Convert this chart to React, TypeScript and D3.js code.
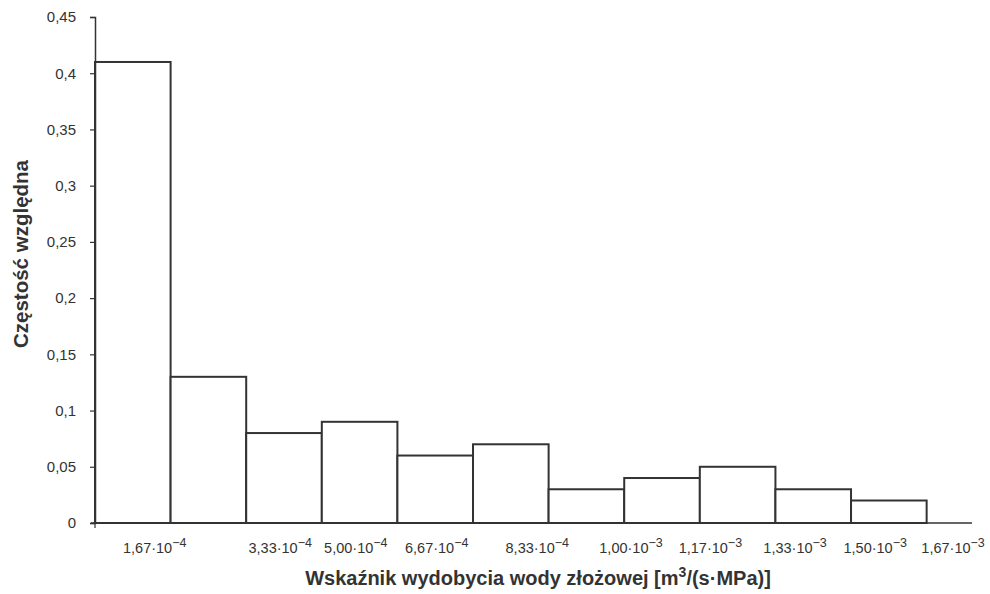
import React, { useEffect, useRef } from 'react';
import * as d3 from 'd3';

// relative frequency for each of the 11 bins
const freq = [0.41, 0.13, 0.08, 0.09, 0.06, 0.07, 0.03, 0.04, 0.05, 0.03, 0.02];

const yTicks = [0, 0.05, 0.1, 0.15, 0.2, 0.25, 0.3, 0.35, 0.4, 0.45];

// x tick labels (mantissa, exponent) and where they sit, in bin units
const xLabelMant = ['1,67', '3,33', '5,00', '6,67', '8,33', '1,00', '1,17', '1,33', '1,50', '1,67'];
const xLabelExp = ['4', '4', '4', '4', '4', '3', '3', '3', '3', '3'];
const xLabelPos = [0.79, 2.45, 3.45, 4.52, 5.85, 7.09, 8.14, 9.26, 10.32, 11.35];

const INK = '#333333';

const App = () => {
  const ref = useRef<SVGSVGElement | null>(null);

  useEffect(() => {
    const svg = d3.select(ref.current);
    svg.selectAll('*').remove();

    const x = d3.scaleLinear().domain([0, 11.6]).range([95, 972]);
    const y = d3.scaleLinear().domain([0, 0.45]).range([523, 17]);

    const fmt = d3.formatLocale({ decimal: ',', thousands: ' ', grouping: [3], currency: ['', ''] }).format('~g');

    // bars
    svg.append('g')
      .selectAll('rect')
      .data(freq)
      .enter()
      .append('rect')
      .attr('x', (d, i) => x(i))
      .attr('y', d => y(d))
      .attr('width', x(1) - x(0))
      .attr('height', d => y(0) - y(d))
      .attr('fill', '#fff')
      .attr('stroke', INK)
      .attr('stroke-width', 2);

    // y axis
    const yAxis = svg.append('g')
      .attr('transform', `translate(${x(0)},0)`)
      .call(d3.axisLeft(y).tickValues(yTicks).tickSize(5).tickPadding(14).tickFormat(d => fmt(d as number)));
    yAxis.select('.domain').attr('stroke', INK).attr('stroke-width', 1.5);
    yAxis.selectAll('.tick line').attr('stroke', INK).attr('stroke-width', 1.2);
    yAxis.selectAll('.tick text')
      .attr('fill', INK)
      .style('font-family', 'Liberation Sans, Arial, sans-serif')
      .style('font-size', '15px');

    // x axis line
    svg.append('line')
      .attr('x1', x(0) - 4).attr('x2', x(11.6))
      .attr('y1', y(0)).attr('y2', y(0))
      .attr('stroke', INK).attr('stroke-width', 1.5);
    svg.append('line')
      .attr('x1', x(0)).attr('x2', x(0))
      .attr('y1', y(0)).attr('y2', y(0) + 5)
      .attr('stroke', INK).attr('stroke-width', 1.2);

    // x tick labels
    const lab = svg.append('g')
      .selectAll('text')
      .data(xLabelMant)
      .enter()
      .append('text')
      .attr('x', (d, i) => x(xLabelPos[i]))
      .attr('y', 553)
      .attr('text-anchor', 'middle')
      .attr('fill', INK)
      .style('font-family', 'Liberation Sans, Arial, sans-serif')
      .style('font-size', '14.5px');
    lab.append('tspan').text(d => `${d}·10`);
    lab.append('tspan')
      .attr('dy', -6)
      .style('font-size', '12.5px')
      .text((d, i) => `\u2212${xLabelExp[i]}`);

    // axis titles
    const title = svg.append('text')
      .attr('x', 538)
      .attr('y', 585)
      .attr('text-anchor', 'middle')
      .attr('fill', INK)
      .style('font-family', 'Liberation Sans, Arial, sans-serif')
      .style('font-weight', 'bold')
      .style('font-size', '20px');
    title.append('tspan').text('Wskaźnik wydobycia wody złożowej [m');
    title.append('tspan').attr('dy', -8).style('font-size', '14px').text('3');
    title.append('tspan').attr('dy', 8).text('/(s·MPa)]');

    svg.append('text')
      .attr('transform', 'translate(28,254) rotate(-90)')
      .attr('text-anchor', 'middle')
      .attr('fill', INK)
      .style('font-family', 'Liberation Sans, Arial, sans-serif')
      .style('font-weight', 'bold')
      .style('font-size', '20.5px')
      .text('Częstość względna');
  }, []);

  return (
    <svg
      ref={ref}
      width={990}
      height={594}
      style={{ position: 'absolute', left: 0, top: 0, background: '#fff' }}
    />
  );
};

export default App;
